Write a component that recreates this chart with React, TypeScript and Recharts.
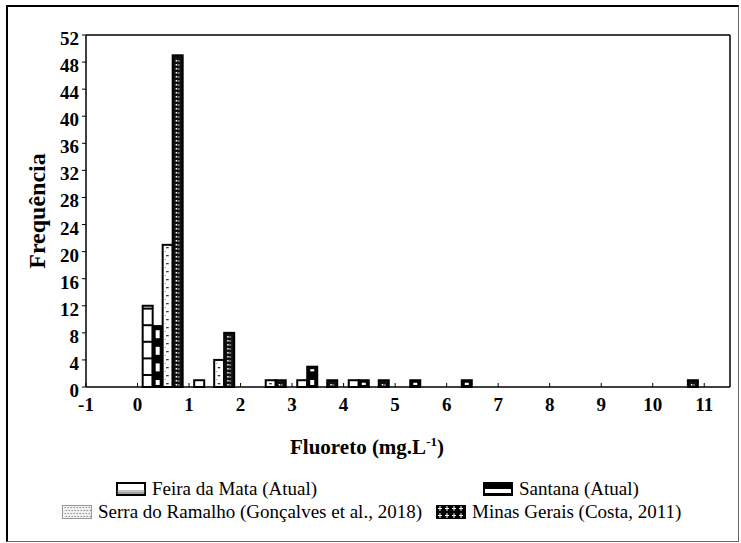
import React from 'react';
import { ComposedChart, Bar, XAxis, YAxis, Label } from 'recharts';

// Histogram groups (lower edge of each 1-unit class)
const groups = [0, 1, 2, 3, 4, 5, 6, 7, 8, 9, 10];
const feiraDaMata = [12, 1, 0, 1, 1, 0, 0, 0, 0, 0, 0];
const santana = [9, 0, 0, 3, 1, 1, 1, 0, 0, 0, 0];
const serraDoRamalho = [21, 4, 1, 0, 0, 0, 0, 0, 0, 0, 0];
const minasGerais = [49, 8, 1, 1, 1, 0, 0, 0, 0, 0, 1];

const xTicks = [-1, 0, 1, 2, 3, 4, 5, 6, 7, 8, 9, 10, 11];
const yTicks = [0, 4, 8, 12, 16, 20, 24, 28, 32, 36, 40, 44, 48, 52];

const seriesNames = [
  'Feira da Mata (Atual)',
  'Santana (Atual)',
  'Serra do Ramalho (Gonçalves et al., 2018)',
  'Minas Gerais (Costa, 2011)',
];

const rows = groups.map((g, i) => ({
  x: g + 0.5,
  feira: feiraDaMata[i],
  santana: santana[i],
  serra: serraDoRamalho[i],
  minas: minasGerais[i],
}));

const FONT = 'Liberation Serif';
const PERIOD = 16.6;

function FeiraShape(props: any) {
  const { x, y, width, height } = props;
  if (!height || height <= 0.5) return null;
  const bottom = y + height;
  const lines: any[] = [];
  for (let ly = bottom - 12; ly > y + 2; ly -= PERIOD) {
    lines.push(<line key={ly} x1={x} x2={x + width} y1={ly} y2={ly} stroke="#000" strokeWidth={2} />);
  }
  return (
    <g>
      <rect x={x} y={y} width={width} height={height} fill="#fff" stroke="#000" strokeWidth={2} />
      {lines}
    </g>
  );
}

function SantanaShape(props: any) {
  const { x, y, width, height } = props;
  if (!height || height <= 0.5) return null;
  const bottom = y + height;
  const wins: any[] = [];
  for (let k = 0; ; k++) {
    const top = bottom - 7 - k * PERIOD;
    const bot = top + 8;
    if (bot < y + 2) break;
    const t = Math.max(top, y + 2.5);
    const b = Math.min(bot, bottom - 2);
    if (b - t > 0.5) wins.push(<rect key={k} x={x + 3} y={t} width={width - 6} height={b - t} fill="#fff" />);
  }
  return (
    <g>
      <rect x={x} y={y} width={width} height={height} fill="#000" stroke="#000" strokeWidth={2} />
      {wins}
    </g>
  );
}

function SerraShape(props: any) {
  const { x, y, width, height } = props;
  if (!height || height <= 0.5) return null;
  const bottom = y + height;
  const cx = x + width / 2;
  const dots: any[] = [];
  let i = 0;
  for (let dy = bottom - 4; dy > y + 2; dy -= 4, i++) {
    if (i % 2 === 0) dots.push(<rect key={'a' + i} x={cx - 1.5} y={dy} width={2.5} height={1.3} fill="#333" />);
    else dots.push(<rect key={'b' + i} x={cx - 3} y={dy} width={1} height={1} fill="#999" />);
  }
  return (
    <g>
      <rect x={x} y={y} width={width} height={height} fill="#fff" stroke="#000" strokeWidth={2} />
      {dots}
    </g>
  );
}

function MinasShape(props: any) {
  const { x, y, width, height } = props;
  if (!height || height <= 0.5) return null;
  const bottom = y + height;
  const cx = x + width / 2;
  const marks: any[] = [];
  let i = 0;
  for (let dy = bottom - 3; dy > y + 2; dy -= 4, i++) {
    marks.push(<rect key={'a' + i} x={cx - 2} y={dy} width={1.5} height={1.5} fill="#fff" />);
    marks.push(<rect key={'b' + i} x={cx} y={dy + 0.5} width={2} height={1} fill="#ccc" />);
  }
  return (
    <g>
      <rect x={x} y={y} width={width} height={height} fill="#111" stroke="#000" strokeWidth={2} />
      {marks}
    </g>
  );
}

function YTick(props: any) {
  const { x, y, payload } = props;
  return (
    <text x={x} y={y + 10} textAnchor="end" fontFamily={FONT} fontWeight="bold" fontSize={19} fill="#000" style={{ fontFamily: FONT }}>
      {payload.value}
    </text>
  );
}

function XTick(props: any) {
  const { x, y, payload } = props;
  return (
    <text x={x} y={y + 24} textAnchor="middle" fontFamily={FONT} fontWeight="bold" fontSize={19} fill="#000" style={{ fontFamily: FONT }}>
      {payload.value}
    </text>
  );
}

function XTitle(props: any) {
  const vb = props.viewBox || { x: 86, y: 387 };
  return (
    <text x={vb.x + 281} y={vb.y + 67} textAnchor="middle" fontFamily={FONT} fontWeight="bold" fontSize={21} fill="#000" style={{ fontFamily: FONT }}>
      Fluoreto (mg.L
      <tspan fontSize={13} dy={-8}>-1</tspan>
      <tspan dy={8}>)</tspan>
    </text>
  );
}

function YTitle(props: any) {
  const vb = props.viewBox || { x: 26, y: 35, height: 352 };
  const cx = vb.x + 11;
  const cy = vb.y + 176;
  return (
    <text x={cx} y={cy} transform={`rotate(-90 ${cx} ${cy})`} textAnchor="middle" dominantBaseline="central" fontFamily={FONT} fontWeight="bold" fontSize={24} fill="#000" style={{ fontFamily: FONT }}>
      Frequência
    </text>
  );
}

function LegendIcon({ idx }: { idx: number }) {
  const w = 30;
  const h = 14;
  if (idx === 0) {
    return (
      <svg width={w} height={h} style={{ display: 'block' }}>
        <rect x={1} y={1} width={w - 2} height={h - 2} fill="#fff" stroke="#000" strokeWidth={2} />
        <line x1={1} x2={w - 1} y1={h - 5} y2={h - 5} stroke="#888" strokeWidth={1} />
        <line x1={1} x2={w - 1} y1={h - 3} y2={h - 3} stroke="#444" strokeWidth={1} />
      </svg>
    );
  }
  if (idx === 1) {
    return (
      <svg width={w} height={h} style={{ display: 'block' }}>
        <rect x={0} y={0} width={w} height={h} fill="#000" />
        <rect x={2} y={7} width={w - 4} height={4} fill="#fff" />
      </svg>
    );
  }
  if (idx === 2) {
    const dots: any[] = [];
    for (let yy = 2; yy < h - 1; yy += 3) {
      for (let xx = 2; xx < w - 1; xx += 3) {
        dots.push(<rect key={xx + '-' + yy} x={xx + ((yy / 3) % 2)} y={yy} width={1} height={1} fill="#666" />);
      }
    }
    return (
      <svg width={w} height={h} style={{ display: 'block' }}>
        <rect x={0.5} y={0.5} width={w - 1} height={h - 1} fill="#f0f0f0" stroke="#999" strokeWidth={1} />
        {dots}
      </svg>
    );
  }
  const crosses: any[] = [];
  for (let r = 0; r < 2; r++) {
    for (let c = 0; c < 4; c++) {
      const cx = 4 + c * 7;
      const cy = 3.5 + r * 7;
      crosses.push(<rect key={'h' + r + c} x={cx - 2} y={cy - 0.5} width={4} height={1} fill="#fff" />);
      crosses.push(<rect key={'v' + r + c} x={cx - 0.5} y={cy - 2.5} width={1} height={5} fill="#fff" />);
    }
  }
  return (
    <svg width={w} height={h} style={{ display: 'block' }}>
      <rect x={0} y={0} width={w} height={h} fill="#000" />
      {crosses}
    </svg>
  );
}

const legendPos = [
  { left: 116, top: 481 },
  { left: 483, top: 481 },
  { left: 62, top: 504 },
  { left: 436, top: 504 },
];

export default function App() {
  return (
    <div style={{ position: 'absolute', left: 0, top: 0, width: 741, height: 543, background: '#fff', overflow: 'hidden', fontFamily: FONT }}>
      <div
        style={{
          position: 'absolute',
          left: 6,
          top: 5,
          width: 733,
          height: 537,
          borderTop: '2px solid #000',
          borderLeft: '2px solid #000',
          borderRight: '1px solid #666',
          borderBottom: '1px solid #666',
          boxSizing: 'border-box',
        }}
      />
      <div style={{ position: 'absolute', left: 0, top: 0 }}>
        <ComposedChart
          width={741}
          height={543}
          data={rows}
          margin={{ top: 34, right: 10, bottom: 116, left: 26 }}
          barCategoryGap="10%"
          barGap={0}
        >
          <XAxis
            xAxisId="b"
            dataKey="x"
            type="number"
            domain={[-1, 11.5]}
            ticks={xTicks}
            interval={0}
            height={40}
            tickSize={-4}
            tickMargin={4}
            axisLine={{ stroke: '#000', strokeWidth: 1.5 }}
            tickLine={{ stroke: '#000', strokeWidth: 1 }}
            tick={<XTick />}
          >
            <Label content={<XTitle />} />
          </XAxis>
          <XAxis
            xAxisId="t"
            orientation="top"
            dataKey="x"
            type="number"
            domain={[-1, 11.5]}
            ticks={xTicks}
            interval={0}
            height={1}
            tickSize={-4}
            tick={false}
            axisLine={{ stroke: '#000', strokeWidth: 1.5 }}
            tickLine={{ stroke: '#000', strokeWidth: 1 }}
          />
          <YAxis
            yAxisId="l"
            type="number"
            domain={[0, 52]}
            ticks={yTicks}
            interval={0}
            width={60}
            tickSize={4}
            tickMargin={3}
            axisLine={{ stroke: '#000', strokeWidth: 1.5 }}
            tickLine={{ stroke: '#000', strokeWidth: 1 }}
            tick={<YTick />}
          >
            <Label content={<YTitle />} />
          </YAxis>
          <YAxis
            yAxisId="r"
            orientation="right"
            type="number"
            domain={[0, 52]}
            ticks={yTicks}
            interval={0}
            width={1}
            tickSize={-4}
            tick={false}
            axisLine={{ stroke: '#000', strokeWidth: 1.5 }}
            tickLine={{ stroke: '#000', strokeWidth: 1 }}
          />
          <Bar xAxisId="b" yAxisId="l" dataKey="feira" name={seriesNames[0]} shape={<FeiraShape />} isAnimationActive={false} />
          <Bar xAxisId="b" yAxisId="l" dataKey="santana" name={seriesNames[1]} shape={<SantanaShape />} isAnimationActive={false} />
          <Bar xAxisId="b" yAxisId="l" dataKey="serra" name={seriesNames[2]} shape={<SerraShape />} isAnimationActive={false} />
          <Bar xAxisId="b" yAxisId="l" dataKey="minas" name={seriesNames[3]} shape={<MinasShape />} isAnimationActive={false} />
        </ComposedChart>
      </div>
      {seriesNames.map((name, i) => (
        <div
          key={name}
          style={{
            position: 'absolute',
            left: legendPos[i].left,
            top: legendPos[i].top,
            display: 'flex',
            alignItems: 'center',
            height: 16,
            whiteSpace: 'nowrap',
          }}
        >
          <LegendIcon idx={i} />
          <span style={{ marginLeft: 6, fontFamily: FONT, fontSize: 19, color: '#000', lineHeight: '16px' }}>{name}</span>
        </div>
      ))}
    </div>
  );
}
